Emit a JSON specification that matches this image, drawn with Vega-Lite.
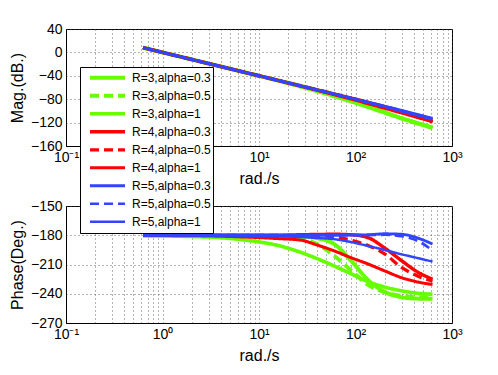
{
  "$schema": "https://vega.github.io/schema/vega-lite/v6.json",
  "padding": {"left": 8, "top": 21, "right": 5, "bottom": 5},
  "background": "white",
  "bounds": "flush",
  "spacing": 60,
  "datasets": {
    "d": [
      {"s":"R=3,alpha=0.3","w":0.628,"m":8.08,"p":-180},{"s":"R=3,alpha=0.3","w":1,"m":0,"p":-180},{"s":"R=3,alpha=0.3","w":2,"m":-12.04,"p":-180},{"s":"R=3,alpha=0.3","w":4,"m":-24.08,"p":-180.2},{"s":"R=3,alpha=0.3","w":8,"m":-36.12,"p":-180.5},{"s":"R=3,alpha=0.3","w":15,"m":-47.04,"p":-180.8},{"s":"R=3,alpha=0.3","w":27,"m":-57.25,"p":-181},{"s":"R=3,alpha=0.3","w":40,"m":-64.08,"p":-183},{"s":"R=3,alpha=0.3","w":60,"m":-71.63,"p":-189},{"s":"R=3,alpha=0.3","w":90,"m":-80.67,"p":-206},{"s":"R=3,alpha=0.3","w":135,"m":-91.21,"p":-226},{"s":"R=3,alpha=0.3","w":200,"m":-102.04,"p":-238},{"s":"R=3,alpha=0.3","w":300,"m":-112.58,"p":-243.5},{"s":"R=3,alpha=0.3","w":445,"m":-121.43,"p":-245},{"s":"R=3,alpha=0.3","w":628,"m":-128.92,"p":-245},
      {"s":"R=3,alpha=0.5","w":0.628,"m":8.08,"p":-180},{"s":"R=3,alpha=0.5","w":1,"m":0,"p":-180},{"s":"R=3,alpha=0.5","w":2,"m":-12.04,"p":-180.2},{"s":"R=3,alpha=0.5","w":4,"m":-24.08,"p":-180.4},{"s":"R=3,alpha=0.5","w":8,"m":-36.12,"p":-180.7},{"s":"R=3,alpha=0.5","w":15,"m":-47.04,"p":-181},{"s":"R=3,alpha=0.5","w":27,"m":-57.25,"p":-183},{"s":"R=3,alpha=0.5","w":40,"m":-64.38,"p":-189},{"s":"R=3,alpha=0.5","w":60,"m":-72.33,"p":-201},{"s":"R=3,alpha=0.5","w":90,"m":-82.17,"p":-216},{"s":"R=3,alpha=0.5","w":135,"m":-92.71,"p":-231},{"s":"R=3,alpha=0.5","w":200,"m":-103.04,"p":-238.5},{"s":"R=3,alpha=0.5","w":300,"m":-113.08,"p":-242},{"s":"R=3,alpha=0.5","w":445,"m":-121.93,"p":-243.5},{"s":"R=3,alpha=0.5","w":628,"m":-128.92,"p":-243.5},
      {"s":"R=3,alpha=1","w":0.628,"m":8.08,"p":-180.5},{"s":"R=3,alpha=1","w":1,"m":0,"p":-180.8},{"s":"R=3,alpha=1","w":2,"m":-12.04,"p":-181.3},{"s":"R=3,alpha=1","w":4,"m":-24.08,"p":-182.5},{"s":"R=3,alpha=1","w":8,"m":-36.32,"p":-185.5},{"s":"R=3,alpha=1","w":15,"m":-47.54,"p":-190},{"s":"R=3,alpha=1","w":27,"m":-58.75,"p":-197.5},{"s":"R=3,alpha=1","w":40,"m":-66.58,"p":-204},{"s":"R=3,alpha=1","w":60,"m":-75.13,"p":-211.5},{"s":"R=3,alpha=1","w":90,"m":-84.17,"p":-219.5},{"s":"R=3,alpha=1","w":135,"m":-93.71,"p":-227.6},{"s":"R=3,alpha=1","w":200,"m":-103.04,"p":-233},{"s":"R=3,alpha=1","w":300,"m":-112.08,"p":-237},{"s":"R=3,alpha=1","w":445,"m":-120.93,"p":-239.5},{"s":"R=3,alpha=1","w":628,"m":-128.42,"p":-240.5},
      {"s":"R=4,alpha=0.3","w":0.628,"m":8.08,"p":-180},{"s":"R=4,alpha=0.3","w":1,"m":0,"p":-180},{"s":"R=4,alpha=0.3","w":2,"m":-12.04,"p":-180},{"s":"R=4,alpha=0.3","w":4,"m":-24.08,"p":-180},{"s":"R=4,alpha=0.3","w":8,"m":-36.12,"p":-180},{"s":"R=4,alpha=0.3","w":15,"m":-47.04,"p":-180},{"s":"R=4,alpha=0.3","w":27,"m":-57.25,"p":-179.5},{"s":"R=4,alpha=0.3","w":40,"m":-64.08,"p":-179.2},{"s":"R=4,alpha=0.3","w":60,"m":-71.13,"p":-179},{"s":"R=4,alpha=0.3","w":90,"m":-78.17,"p":-179.5},{"s":"R=4,alpha=0.3","w":135,"m":-85.21,"p":-182.5},{"s":"R=4,alpha=0.3","w":200,"m":-92.54,"p":-193},{"s":"R=4,alpha=0.3","w":300,"m":-101.08,"p":-206},{"s":"R=4,alpha=0.3","w":445,"m":-109.93,"p":-218},{"s":"R=4,alpha=0.3","w":628,"m":-117.92,"p":-225},
      {"s":"R=4,alpha=0.5","w":0.628,"m":8.08,"p":-180},{"s":"R=4,alpha=0.5","w":1,"m":0,"p":-180},{"s":"R=4,alpha=0.5","w":2,"m":-12.04,"p":-180},{"s":"R=4,alpha=0.5","w":4,"m":-24.08,"p":-180},{"s":"R=4,alpha=0.5","w":8,"m":-36.12,"p":-180},{"s":"R=4,alpha=0.5","w":15,"m":-47.04,"p":-180.2},{"s":"R=4,alpha=0.5","w":27,"m":-57.25,"p":-180.4},{"s":"R=4,alpha=0.5","w":40,"m":-64.08,"p":-180.7},{"s":"R=4,alpha=0.5","w":60,"m":-71.13,"p":-181.5},{"s":"R=4,alpha=0.5","w":90,"m":-78.17,"p":-185},{"s":"R=4,alpha=0.5","w":135,"m":-85.71,"p":-190.5},{"s":"R=4,alpha=0.5","w":200,"m":-93.54,"p":-199},{"s":"R=4,alpha=0.5","w":300,"m":-102.08,"p":-213},{"s":"R=4,alpha=0.5","w":445,"m":-110.93,"p":-222},{"s":"R=4,alpha=0.5","w":628,"m":-118.42,"p":-227},
      {"s":"R=4,alpha=1","w":0.628,"m":8.08,"p":-180.2},{"s":"R=4,alpha=1","w":1,"m":0,"p":-180.3},{"s":"R=4,alpha=1","w":2,"m":-12.04,"p":-180.5},{"s":"R=4,alpha=1","w":4,"m":-24.08,"p":-181},{"s":"R=4,alpha=1","w":8,"m":-36.12,"p":-182},{"s":"R=4,alpha=1","w":15,"m":-47.04,"p":-183.3},{"s":"R=4,alpha=1","w":27,"m":-57.75,"p":-185},{"s":"R=4,alpha=1","w":40,"m":-64.78,"p":-190},{"s":"R=4,alpha=1","w":60,"m":-72.13,"p":-196},{"s":"R=4,alpha=1","w":90,"m":-79.87,"p":-203},{"s":"R=4,alpha=1","w":135,"m":-87.71,"p":-209.5},{"s":"R=4,alpha=1","w":200,"m":-95.54,"p":-216.5},{"s":"R=4,alpha=1","w":300,"m":-103.58,"p":-223.5},{"s":"R=4,alpha=1","w":445,"m":-111.43,"p":-228},{"s":"R=4,alpha=1","w":628,"m":-118.42,"p":-230.5},
      {"s":"R=5,alpha=0.3","w":0.628,"m":8.08,"p":-180},{"s":"R=5,alpha=0.3","w":1,"m":0,"p":-180},{"s":"R=5,alpha=0.3","w":2,"m":-12.04,"p":-180},{"s":"R=5,alpha=0.3","w":4,"m":-24.08,"p":-180},{"s":"R=5,alpha=0.3","w":8,"m":-36.12,"p":-180},{"s":"R=5,alpha=0.3","w":15,"m":-47.04,"p":-180},{"s":"R=5,alpha=0.3","w":27,"m":-57.25,"p":-180},{"s":"R=5,alpha=0.3","w":40,"m":-64.08,"p":-180},{"s":"R=5,alpha=0.3","w":60,"m":-71.13,"p":-180},{"s":"R=5,alpha=0.3","w":90,"m":-78.17,"p":-179.8},{"s":"R=5,alpha=0.3","w":135,"m":-85.21,"p":-179.5},{"s":"R=5,alpha=0.3","w":200,"m":-92.04,"p":-178.5},{"s":"R=5,alpha=0.3","w":300,"m":-99.08,"p":-179},{"s":"R=5,alpha=0.3","w":445,"m":-106.23,"p":-183},{"s":"R=5,alpha=0.3","w":628,"m":-112.72,"p":-189},
      {"s":"R=5,alpha=0.5","w":0.628,"m":8.08,"p":-180},{"s":"R=5,alpha=0.5","w":1,"m":0,"p":-180},{"s":"R=5,alpha=0.5","w":2,"m":-12.04,"p":-180},{"s":"R=5,alpha=0.5","w":4,"m":-24.08,"p":-180},{"s":"R=5,alpha=0.5","w":8,"m":-36.12,"p":-180},{"s":"R=5,alpha=0.5","w":15,"m":-47.04,"p":-180},{"s":"R=5,alpha=0.5","w":27,"m":-57.25,"p":-180},{"s":"R=5,alpha=0.5","w":40,"m":-64.08,"p":-180},{"s":"R=5,alpha=0.5","w":60,"m":-71.13,"p":-180},{"s":"R=5,alpha=0.5","w":90,"m":-78.17,"p":-180},{"s":"R=5,alpha=0.5","w":135,"m":-85.21,"p":-179.8},{"s":"R=5,alpha=0.5","w":200,"m":-92.04,"p":-179.5},{"s":"R=5,alpha=0.5","w":300,"m":-99.38,"p":-181},{"s":"R=5,alpha=0.5","w":445,"m":-106.63,"p":-186},{"s":"R=5,alpha=0.5","w":628,"m":-113.42,"p":-195.5},
      {"s":"R=5,alpha=1","w":0.628,"m":8.08,"p":-180},{"s":"R=5,alpha=1","w":1,"m":0,"p":-180},{"s":"R=5,alpha=1","w":2,"m":-12.04,"p":-180.1},{"s":"R=5,alpha=1","w":4,"m":-24.08,"p":-180.3},{"s":"R=5,alpha=1","w":8,"m":-36.12,"p":-180.6},{"s":"R=5,alpha=1","w":15,"m":-47.04,"p":-181},{"s":"R=5,alpha=1","w":27,"m":-57.25,"p":-181.8},{"s":"R=5,alpha=1","w":40,"m":-64.08,"p":-182.8},{"s":"R=5,alpha=1","w":60,"m":-71.13,"p":-184},{"s":"R=5,alpha=1","w":90,"m":-78.17,"p":-187},{"s":"R=5,alpha=1","w":135,"m":-85.71,"p":-191},{"s":"R=5,alpha=1","w":200,"m":-93.04,"p":-195},{"s":"R=5,alpha=1","w":300,"m":-100.58,"p":-199.5},{"s":"R=5,alpha=1","w":445,"m":-108.13,"p":-203.5},{"s":"R=5,alpha=1","w":628,"m":-114.92,"p":-207}
    ]
  },
  "vconcat": [
    {
      "width": 386,
      "height": 117,
      "data": {"name": "d"},
      "mark": {"type": "line", "interpolate": "monotone", "clip": true},
      "encoding": {
        "x": {"field": "w", "type": "quantitative",
          "scale": {"type": "log", "domain": [0.1, 1000], "nice": false},
          "axis": {"title": "rad./s",
            "values": [0.1,0.2,0.3,0.4,0.5,0.6,0.7,0.8,0.9,1,2,3,4,5,6,7,8,9,10,20,30,40,50,60,70,80,90,100,200,300,400,500,600,700,800,900,1000],
            "labelExpr": "datum.value == 0.1 ? '10⁻¹' : datum.value == 1 ? '10⁰' : datum.value == 10 ? '10¹' : datum.value == 100 ? '10²' : datum.value == 1000 ? '10³' : ''"}},
        "y": {"field": "m", "type": "quantitative",
          "scale": {"domain": [-160, 40], "nice": false, "zero": false},
          "axis": {"title": "Mag.(dB.)", "values": [-160,-120,-80,-40,0,40], "titleX": -57, "titleY": 58.5}},
        "color": {"field": "s", "type": "nominal", "title": null,
          "scale": {"domain": ["R=3,alpha=0.3","R=3,alpha=0.5","R=3,alpha=1","R=4,alpha=0.3","R=4,alpha=0.5","R=4,alpha=1","R=5,alpha=0.3","R=5,alpha=0.5","R=5,alpha=1"],
            "range": ["#66ff00","#66ff00","#66ff00","#ff0000","#ff0000","#ff0000","#3344ff","#3344ff","#3344ff"]}},
        "strokeDash": {"field": "s", "type": "nominal", "title": null,
          "scale": {"domain": ["R=3,alpha=0.3","R=3,alpha=0.5","R=3,alpha=1","R=4,alpha=0.3","R=4,alpha=0.5","R=4,alpha=1","R=5,alpha=0.3","R=5,alpha=0.5","R=5,alpha=1"],
            "range": [[1,0],[9,5],[1,0],[1,0],[9,5],[1,0],[1,0],[9,5],[1,0]]}},
        "strokeWidth": {"field": "s", "type": "nominal", "title": null,
          "scale": {"domain": ["R=3,alpha=0.3","R=3,alpha=0.5","R=3,alpha=1","R=4,alpha=0.3","R=4,alpha=0.5","R=4,alpha=1","R=5,alpha=0.3","R=5,alpha=0.5","R=5,alpha=1"],
            "range": [4,2.5,2,4,2.5,2,4,2.5,2]}}
      }
    },
    {
      "width": 386,
      "height": 117,
      "data": {"name": "d"},
      "mark": {"type": "line", "interpolate": "monotone", "clip": true},
      "encoding": {
        "x": {"field": "w", "type": "quantitative",
          "scale": {"type": "log", "domain": [0.1, 1000], "nice": false},
          "axis": {"title": "rad./s",
            "values": [0.1,0.2,0.3,0.4,0.5,0.6,0.7,0.8,0.9,1,2,3,4,5,6,7,8,9,10,20,30,40,50,60,70,80,90,100,200,300,400,500,600,700,800,900,1000],
            "labelExpr": "datum.value == 0.1 ? '10⁻¹' : datum.value == 1 ? '10⁰' : datum.value == 10 ? '10¹' : datum.value == 100 ? '10²' : datum.value == 1000 ? '10³' : ''"}},
        "y": {"field": "p", "type": "quantitative",
          "scale": {"domain": [-270, -150], "nice": false, "zero": false},
          "axis": {"title": "Phase(Deg.)", "values": [-270,-240,-210,-180,-150], "titleX": -57, "titleY": 58.5}},
        "color": {"field": "s", "type": "nominal", "title": null,
          "scale": {"domain": ["R=3,alpha=0.3","R=3,alpha=0.5","R=3,alpha=1","R=4,alpha=0.3","R=4,alpha=0.5","R=4,alpha=1","R=5,alpha=0.3","R=5,alpha=0.5","R=5,alpha=1"],
            "range": ["#66ff00","#66ff00","#66ff00","#ff0000","#ff0000","#ff0000","#3344ff","#3344ff","#3344ff"]}},
        "strokeDash": {"field": "s", "type": "nominal", "title": null,
          "scale": {"domain": ["R=3,alpha=0.3","R=3,alpha=0.5","R=3,alpha=1","R=4,alpha=0.3","R=4,alpha=0.5","R=4,alpha=1","R=5,alpha=0.3","R=5,alpha=0.5","R=5,alpha=1"],
            "range": [[1,0],[9,5],[1,0],[1,0],[9,5],[1,0],[1,0],[9,5],[1,0]]}},
        "strokeWidth": {"field": "s", "type": "nominal", "title": null,
          "scale": {"domain": ["R=3,alpha=0.3","R=3,alpha=0.5","R=3,alpha=1","R=4,alpha=0.3","R=4,alpha=0.5","R=4,alpha=1","R=5,alpha=0.3","R=5,alpha=0.5","R=5,alpha=1"],
            "range": [4,2.5,2,4,2.5,2,4,2.5,2]}}
      }
    }
  ],
  "config": {
    "font": "Liberation Sans",
    "view": {"stroke": "black", "strokeWidth": 1},
    "axis": {
      "domainColor": "black", "domainWidth": 1,
      "ticks": false,
      "labelFontSize": 14, "labelColor": "black", "labelPadding": 4,
      "labelOverlap": false, "labelFlush": false,
      "titleFontSize": 16, "titleFontWeight": "normal", "titleColor": "black",
      "grid": true, "gridColor": "#444", "gridDash": [1, 3], "gridWidth": 1, "gridOpacity": 0.8
    },
    "axisX": {"titlePadding": 6},
    "axisY": {"titleAngle": 270, "titleBaseline": "top", "titleAlign": "center"},
    "legend": {
      "orient": "none", "legendX": 14, "legendY": 38,
      "fillColor": "white", "strokeColor": "black", "padding": 2,
      "symbolType": "stroke", "symbolSize": 1225, "clipHeight": 17.5, "rowPadding": 0,
      "symbolOffset": 6, "labelOffset": 5, "labelFontSize": 12, "labelColor": "black",
      "labelLimit": 200
    }
  }
}
